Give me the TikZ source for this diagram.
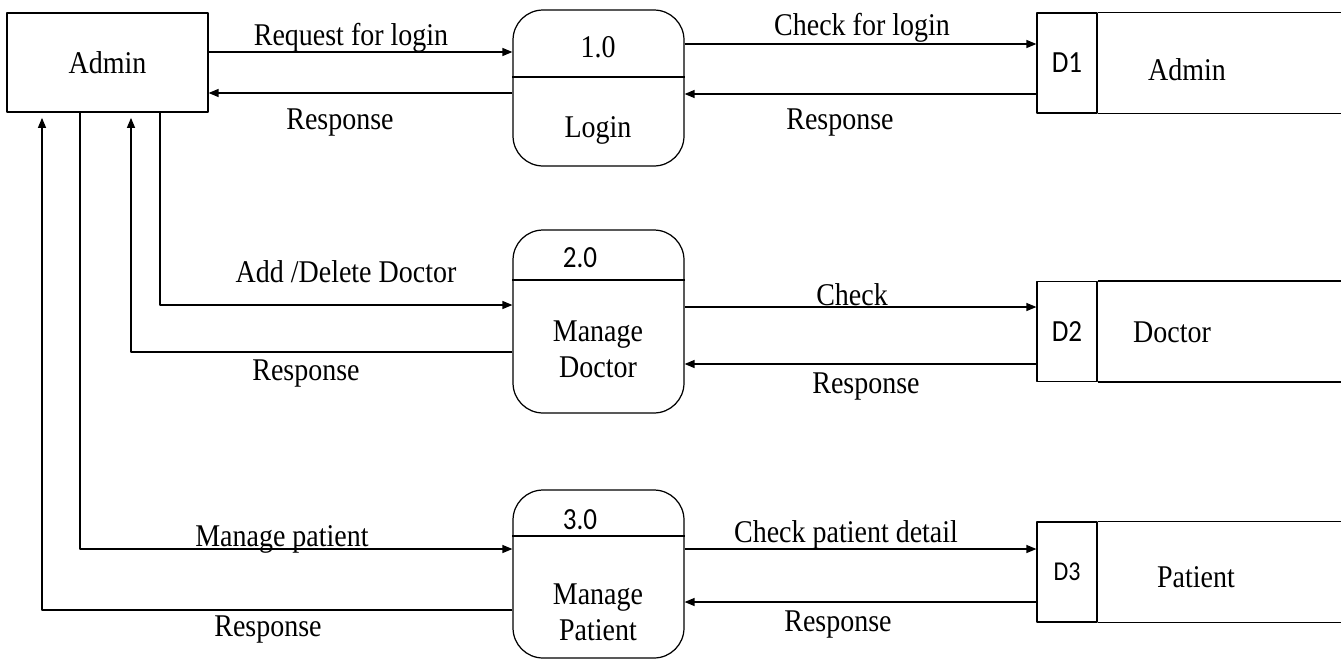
\documentclass[tikz,border=0pt]{standalone}
\usepackage{fontspec}
\setmainfont{Liberation Serif}[FakeStretch=0.885]
\newfontfamily\calibrifont{Carlito}[FakeStretch=0.88]
\usetikzlibrary{arrows.meta}
\begin{document}
\begin{tikzpicture}[x=0.02cm,y=-0.02cm,>={Triangle[length=2mm,width=1.6mm]}, line width=0.7pt, line join=round,
	font=\fontsize{18}{20.5}\selectfont,
	ext/.style={draw,minimum width=4.02cm,minimum height=1.98cm,inner sep=0pt},
	proc/.style={draw,rounded corners=0.6cm,minimum width=3.42cm,inner sep=0pt},
	store/.style={draw,minimum width=1.2cm,minimum height=2cm,inner sep=0pt,font=\calibrifont\fontsize{17.5}{20}\selectfont},
	num/.style={font=\calibrifont\fontsize{17.5}{20}\selectfont},
	lbl/.style={inner sep=0pt,align=center,yshift=-1.5pt}]
	\def\tail{244} % open end of the stores
	\useasboundingbox (0,0) rectangle (1341,659);
	% entity and processes
	\node[ext] (admin) at (107.5,62.5) {Admin};
	\node[proc,minimum height=3.12cm] (p1) at (598.5,88) {};
	\node[proc,minimum height=3.66cm] (p2) at (598.5,321.5) {};
	\node[proc,minimum height=3.36cm] (p3) at (598.5,574) {};
	\draw (p1.west |- 0,77)--(p1.east |- 0,77);
	\draw (p2.west |- 0,280)--(p2.east |- 0,280);
	\draw (p3.west |- 0,536)--(p3.east |- 0,536);
	\node[lbl] (n1) at (598,45) {1.0};
	\node[lbl] (t1) at (598,128) {Login};
	\node[lbl,num] (n2) at (580,255) {2.0};
	\node[lbl] (t2) at (598,347) {Manage\\Doctor};
	\node[lbl,num] (n3) at (580,517) {3.0};
	\node[lbl] (t3) at (598,610) {Manage\\Patient};
	% data stores
	\node[store] (d1) at (1067,63) {D1};
	\node[store] (d2) at (1067,331.5) {D2};
	\node[store,font=\calibrifont\fontsize{15.5}{18}\selectfont] (d3) at (1067,572) {D3};
	\foreach \s in {d1,d2,d3}
	\draw (\s.north east)--++(\tail,0) (\s.south east)--++(\tail,0);
	\node[lbl] (s1) at (1187,67) {Admin};
	\node[lbl] (s2) at (1172,330) {Doctor};
	\node[lbl] (s3) at (1196,575) {Patient};
	% flows
	\draw[->] (admin.east |- 0,52)--(p1.west |- 0,52);
	\draw[->] (p1.west |- 0,93)--(admin.east |- 0,93);
	\draw[->] (p1.east |- 0,44)--(d1.west |- 0,44);
	\draw[->] (d1.west |- 0,94)--(p1.east |- 0,94);
	\draw[->] (admin.south -| 160,0) |- (p2.west |- 0,305);
	\draw[->,shorten >=3pt] (p2.west |- 0,352) -| (admin.south -| 131,0);
	\draw[->] (p2.east |- 0,307)--(d2.west |- 0,307);
	\draw[->] (d2.west |- 0,364)--(p2.east |- 0,364);
	\draw[->] (admin.south -| 80,0) |- (p3.west |- 0,549);
	\draw[->,shorten >=3pt] (p3.west |- 0,610) -| (admin.south -| 42,0);
	\draw[->] (p3.east |- 0,549)--(d3.west |- 0,549);
	\draw[->] (d3.west |- 0,602)--(p3.east |- 0,602);
	% flow labels
	\node[lbl] at (351,35) {Request for login};
	\node[lbl] at (340,120) {Response};
	\node[lbl] at (862,25) {Check for login};
	\node[lbl] at (840,120) {Response};
	\node[lbl] at (346,269) {Add /Delete Doctor};
	\node[lbl] at (306,371) {Response};
	\node[lbl] at (852,292) {Check};
	\node[lbl] at (866,384) {Response};
	\node[lbl] at (282,537) {Manage patient};
	\node[lbl] at (268,627) {Response};
	\node[lbl] at (846,532) {Check patient detail};
	\node[lbl] at (838,622) {Response};
\end{tikzpicture}
\end{document}
